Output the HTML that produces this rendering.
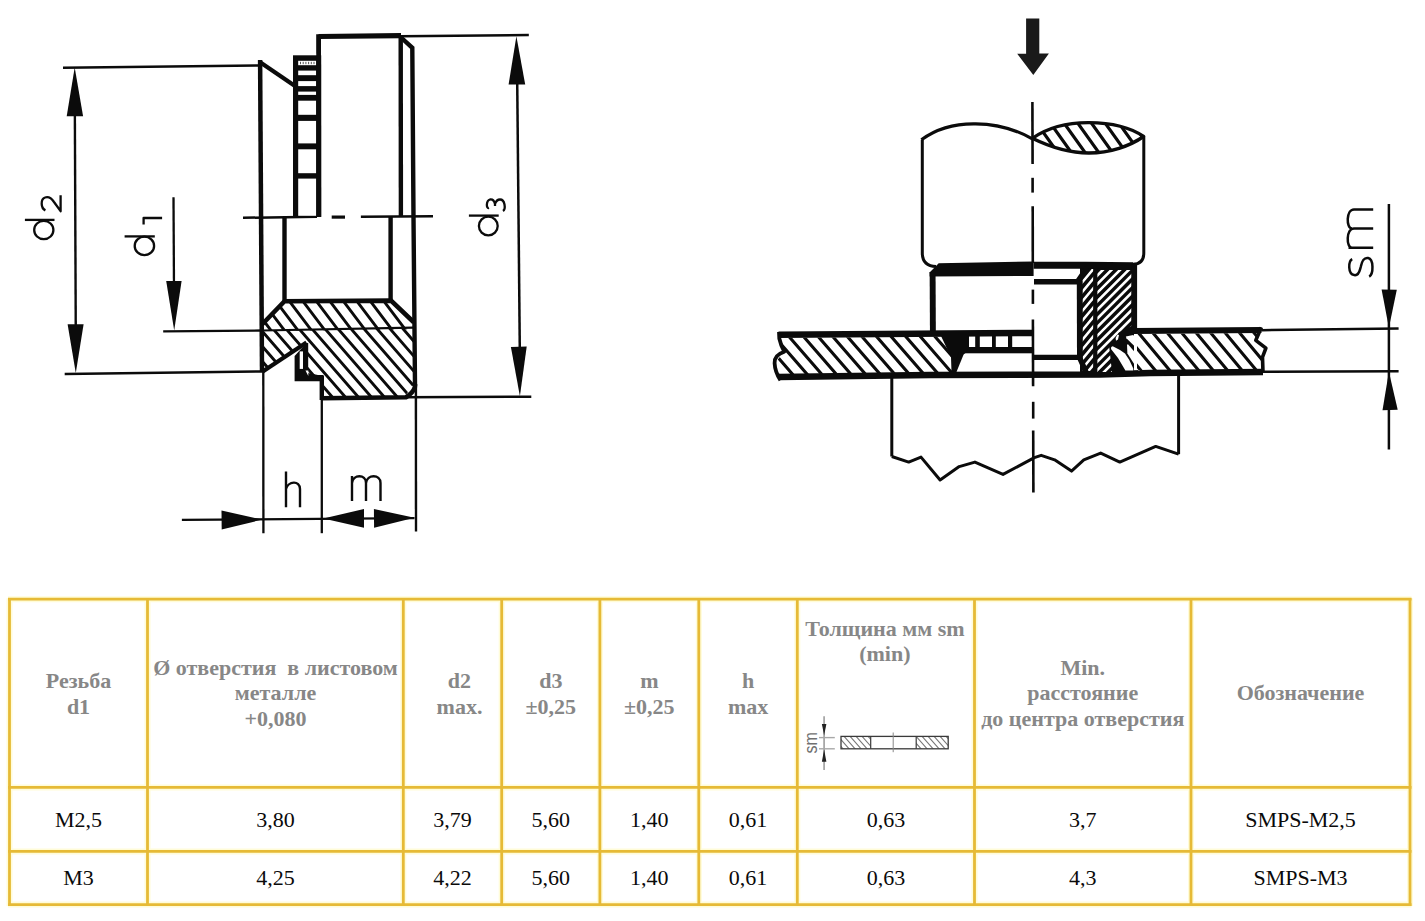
<!DOCTYPE html>
<html><head><meta charset="utf-8">
<style>
html,body{margin:0;padding:0;background:#fff;width:1425px;height:921px;overflow:hidden;}
body{position:relative;font-family:"Liberation Serif",serif;}
.t{position:absolute;text-align:center;white-space:nowrap;font-size:22px;line-height:25px;}
.h{color:#878787;font-weight:bold;line-height:26px;}
.h3{line-height:25.5px;}
.b{color:#0a0a0a;}
svg{position:absolute;left:0;top:0;}
</style></head><body>
<svg width="1425" height="921" viewBox="0 0 1425 921">
<g stroke="#FFFCD8" stroke-width="6" fill="none">
<line x1="8" y1="599.2" x2="1411.5" y2="599.2"/>
<line x1="8" y1="787.4" x2="1411.5" y2="787.4"/>
<line x1="8" y1="851.4" x2="1411.5" y2="851.4"/>
<line x1="8" y1="904.6" x2="1411.5" y2="904.6"/>
<line x1="9.5" y1="598.2" x2="9.5" y2="906"/>
<line x1="147.5" y1="598.2" x2="147.5" y2="906"/>
<line x1="403.3" y1="598.2" x2="403.3" y2="906"/>
<line x1="501.7" y1="598.2" x2="501.7" y2="906"/>
<line x1="599.9" y1="598.2" x2="599.9" y2="906"/>
<line x1="698.8" y1="598.2" x2="698.8" y2="906"/>
<line x1="797.3" y1="598.2" x2="797.3" y2="906"/>
<line x1="974.5" y1="598.2" x2="974.5" y2="906"/>
<line x1="1191" y1="598.2" x2="1191" y2="906"/>
<line x1="1410" y1="598.2" x2="1410" y2="906"/>
</g>
<g stroke="#E6BA36" stroke-width="2.8" fill="none">
<line x1="8" y1="599.2" x2="1411.5" y2="599.2"/>
<line x1="8" y1="787.4" x2="1411.5" y2="787.4"/>
<line x1="8" y1="851.4" x2="1411.5" y2="851.4"/>
<line x1="8" y1="904.6" x2="1411.5" y2="904.6"/>
<line x1="9.5" y1="598.2" x2="9.5" y2="906"/>
<line x1="147.5" y1="598.2" x2="147.5" y2="906"/>
<line x1="403.3" y1="598.2" x2="403.3" y2="906"/>
<line x1="501.7" y1="598.2" x2="501.7" y2="906"/>
<line x1="599.9" y1="598.2" x2="599.9" y2="906"/>
<line x1="698.8" y1="598.2" x2="698.8" y2="906"/>
<line x1="797.3" y1="598.2" x2="797.3" y2="906"/>
<line x1="974.5" y1="598.2" x2="974.5" y2="906"/>
<line x1="1191" y1="598.2" x2="1191" y2="906"/>
<line x1="1410" y1="598.2" x2="1410" y2="906"/>
</g>
<clipPath id="c1"><polygon points="262.0,324.0 284.5,301.0 391.0,300.5 413.0,321.6 413.0,329.3 262.0,331.0"/></clipPath>
<path clip-path="url(#c1)" d="M231.1,295.5 L261.7,336.0 M244.6,295.5 L275.2,336.0 M258.1,295.5 L288.7,336.0 M271.6,295.5 L302.2,336.0 M285.1,295.5 L315.7,336.0 M298.6,295.5 L329.2,336.0 M312.1,295.5 L342.7,336.0 M325.6,295.5 L356.2,336.0 M339.1,295.5 L369.7,336.0 M352.6,295.5 L383.2,336.0 M366.1,295.5 L396.7,336.0 M379.6,295.5 L410.2,336.0 M393.1,295.5 L423.7,336.0 M406.6,295.5 L437.2,336.0" stroke="#0b0b0b" stroke-width="2.9" fill="none"/>
<clipPath id="c2"><polygon points="262.0,330.5 413.0,328.0 414.0,384.0 405.0,396.0 321.5,398.0 321.5,377.0 306.0,375.0 306.0,343.0 262.0,371.7"/></clipPath>
<path clip-path="url(#c2)" d="M190.0,323.0 L259.5,403.0 M203.0,323.0 L272.5,403.0 M216.0,323.0 L285.5,403.0 M229.0,323.0 L298.5,403.0 M242.0,323.0 L311.5,403.0 M255.0,323.0 L324.5,403.0 M268.0,323.0 L337.5,403.0 M281.0,323.0 L350.5,403.0 M294.0,323.0 L363.5,403.0 M307.0,323.0 L376.5,403.0 M320.0,323.0 L389.5,403.0 M333.0,323.0 L402.5,403.0 M346.0,323.0 L415.5,403.0 M359.0,323.0 L428.5,403.0 M372.0,323.0 L441.5,403.0 M385.0,323.0 L454.5,403.0 M398.0,323.0 L467.5,403.0 M411.0,323.0 L480.5,403.0" stroke="#0b0b0b" stroke-width="2.9" fill="none"/>
<line x1="63.0" y1="67.8" x2="258.0" y2="65.5" stroke="#0b0b0b" stroke-width="2.5" stroke-linecap="butt"/>
<line x1="64.7" y1="374.0" x2="262.0" y2="371.5" stroke="#0b0b0b" stroke-width="2.5" stroke-linecap="butt"/>
<line x1="163.2" y1="331.3" x2="262.0" y2="330.5" stroke="#0b0b0b" stroke-width="2.3" stroke-linecap="butt"/>
<line x1="262.0" y1="330.5" x2="413.0" y2="327.6" stroke="#0b0b0b" stroke-width="2.2" stroke-linecap="butt"/>
<line x1="401.0" y1="36.2" x2="528.8" y2="35.0" stroke="#0b0b0b" stroke-width="2.5" stroke-linecap="butt"/>
<line x1="405.0" y1="397.3" x2="531.3" y2="396.7" stroke="#0b0b0b" stroke-width="2.5" stroke-linecap="butt"/>
<line x1="74.8" y1="100.0" x2="75.8" y2="340.0" stroke="#0b0b0b" stroke-width="2.4" stroke-linecap="butt"/>
<polygon points="74.7,67.5 66.7,116.2 83.1,116.2" fill="#0b0b0b"/>
<polygon points="75.8,373.0 83.6,324.2 67.6,324.2" fill="#0b0b0b"/>
<line x1="173.5" y1="197.3" x2="174.0" y2="290.0" stroke="#0b0b0b" stroke-width="2.3" stroke-linecap="butt"/>
<polygon points="174.2,330.5 181.6,281.1 166.2,281.1" fill="#0b0b0b"/>
<line x1="517.1" y1="70.0" x2="519.9" y2="360.0" stroke="#0b0b0b" stroke-width="2.5" stroke-linecap="butt"/>
<polygon points="516.4,36.3 508.6,84.6 525.2,84.4" fill="#0b0b0b"/>
<polygon points="519.9,396.2 526.7,346.6 510.9,347.0" fill="#0b0b0b"/>
<line x1="243.0" y1="217.8" x2="317.0" y2="216.8" stroke="#0b0b0b" stroke-width="2.5" stroke-linecap="butt"/>
<line x1="331.7" y1="217.1" x2="345.0" y2="217.1" stroke="#0b0b0b" stroke-width="3.2" stroke-linecap="butt"/>
<line x1="360.9" y1="216.8" x2="433.0" y2="216.3" stroke="#0b0b0b" stroke-width="2.5" stroke-linecap="butt"/>
<line x1="263.3" y1="372.0" x2="263.4" y2="533.2" stroke="#0b0b0b" stroke-width="2.3" stroke-linecap="butt"/>
<line x1="321.8" y1="398.0" x2="321.8" y2="533.2" stroke="#0b0b0b" stroke-width="2.3" stroke-linecap="butt"/>
<line x1="415.9" y1="388.0" x2="416.0" y2="531.4" stroke="#0b0b0b" stroke-width="2.4" stroke-linecap="butt"/>
<line x1="181.9" y1="519.9" x2="414.5" y2="518.2" stroke="#0b0b0b" stroke-width="2.3" stroke-linecap="butt"/>
<polygon points="262.2,519.6 221.5,510.4 221.7,529.6" fill="#0b0b0b"/>
<polygon points="323.3,518.6 364.0,527.8 364.0,509.0" fill="#0b0b0b"/>
<polygon points="414.5,517.7 373.9,508.9 374.1,527.7" fill="#0b0b0b"/>
<line x1="260.1" y1="60.0" x2="262.0" y2="372.0" stroke="#0b0b0b" stroke-width="4.5" stroke-linecap="butt"/>
<path d="M260.5,62.5 L295.0,86.0" fill="none" stroke="#0b0b0b" stroke-width="4.2" stroke-linejoin="miter" stroke-linecap="butt"/>
<rect x="293.0" y="55.3" width="28.2" height="161.5" fill="#0b0b0b"/>
<rect x="298.2" y="60.8" width="18.0" height="4.4" fill="#fff"/>
<rect x="298.2" y="70.6" width="18.0" height="4.6" fill="#fff"/>
<rect x="298.2" y="81.1" width="18.0" height="5.0" fill="#fff"/>
<rect x="298.2" y="91.6" width="18.0" height="3.3" fill="#fff"/>
<rect x="298.2" y="100.7" width="18.0" height="14.1" fill="#fff"/>
<rect x="298.2" y="120.9" width="18.0" height="22.5" fill="#fff"/>
<rect x="298.2" y="149.3" width="18.0" height="23.9" fill="#fff"/>
<rect x="298.2" y="178.6" width="18.0" height="37.2" fill="#fff"/>
<rect x="300.0" y="61.8" width="1.0" height="2.4" fill="#555"/>
<rect x="302.7" y="61.8" width="1.0" height="2.4" fill="#555"/>
<rect x="305.4" y="61.8" width="1.0" height="2.4" fill="#555"/>
<rect x="308.1" y="61.8" width="1.0" height="2.4" fill="#555"/>
<rect x="310.8" y="61.8" width="1.0" height="2.4" fill="#555"/>
<rect x="313.5" y="61.8" width="1.0" height="2.4" fill="#555"/>
<line x1="318.6" y1="34.2" x2="318.8" y2="217.0" stroke="#0b0b0b" stroke-width="4.8" stroke-linecap="butt"/>
<path d="M318.5,36.5 L401.0,35.6" fill="none" stroke="#0b0b0b" stroke-width="5.2" stroke-linejoin="miter" stroke-linecap="butt"/>
<line x1="400.7" y1="35.0" x2="400.9" y2="217.0" stroke="#0b0b0b" stroke-width="4.4" stroke-linecap="butt"/>
<path d="M400.5,37.0 L412.3,47.8 L413.5,217.0 L414.5,330.0 L415.0,386.0" fill="none" stroke="#0b0b0b" stroke-width="4.4" stroke-linejoin="miter" stroke-linecap="butt"/>
<line x1="284.5" y1="217.0" x2="284.5" y2="302.0" stroke="#0b0b0b" stroke-width="4.4" stroke-linecap="butt"/>
<line x1="390.6" y1="217.0" x2="390.6" y2="302.0" stroke="#0b0b0b" stroke-width="4.4" stroke-linecap="butt"/>
<path d="M262.0,324.5 L284.5,301.2 L391.0,300.6 L413.5,322.0" fill="none" stroke="#0b0b0b" stroke-width="4.6" stroke-linejoin="miter" stroke-linecap="butt"/>
<path d="M415,384 L415,387 Q413,393 406,397.2 L321.5,398.2" fill="none" stroke="#0b0b0b" stroke-width="4.6" stroke-linejoin="round" />
<path d="M262.0,372.0 L306.5,342.6" fill="none" stroke="#0b0b0b" stroke-width="4.2" stroke-linejoin="miter" stroke-linecap="butt"/>
<polygon points="294.6,356.0 306.0,343.5 308.2,342.8 308.2,373.0 318.0,375.0 323.6,375.0 323.6,381.2 294.6,381.2" fill="#0b0b0b"/>
<rect x="299.7" y="351.4" width="3.3" height="17.5" fill="#fff"/>
<line x1="321.8" y1="376.0" x2="321.8" y2="400.0" stroke="#0b0b0b" stroke-width="4.4" stroke-linecap="butt"/>
<polygon points="305.5,370.5 308.3,370.5 308.3,376.0" fill="#fff"/>
<polygon points="1026.1,18.4 1039.3,18.4 1039.3,53.5 1048.9,53.5 1033.3,75.0 1017.2,53.8 1026.1,53.8" fill="#1a1a1a"/>
<line x1="1032.4" y1="101.9" x2="1032.6" y2="164.1" stroke="#0b0b0b" stroke-width="2.6" stroke-linecap="butt"/>
<line x1="1032.6" y1="177.8" x2="1032.6" y2="192.6" stroke="#0b0b0b" stroke-width="2.6" stroke-linecap="butt"/>
<line x1="1032.7" y1="206.3" x2="1032.8" y2="263.0" stroke="#0b0b0b" stroke-width="2.6" stroke-linecap="butt"/>
<line x1="1032.9" y1="289.6" x2="1032.9" y2="303.9" stroke="#0b0b0b" stroke-width="2.6" stroke-linecap="butt"/>
<line x1="1032.9" y1="319.4" x2="1033.1" y2="386.3" stroke="#0b0b0b" stroke-width="2.6" stroke-linecap="butt"/>
<line x1="1033.2" y1="401.8" x2="1033.2" y2="418.6" stroke="#0b0b0b" stroke-width="2.6" stroke-linecap="butt"/>
<line x1="1033.2" y1="430.5" x2="1033.4" y2="492.6" stroke="#0b0b0b" stroke-width="2.6" stroke-linecap="butt"/>
<path d="M922.3,139.7 L922.3,253 Q922.3,266 936,266.5" fill="none" stroke="#0b0b0b" stroke-width="3.0" stroke-linejoin="round" />
<path d="M1143.8,136.5 L1143.8,253 Q1143.8,264 1133,264.3" fill="none" stroke="#0b0b0b" stroke-width="3.0" stroke-linejoin="round" />
<path d="M921.4,139.7 C940,126 960,123.5 975.7,123.8 C995,124 1015,129 1032.3,138.8" fill="none" stroke="#0b0b0b" stroke-width="3.2" stroke-linejoin="round" />
<clipPath id="c3"><path d="M1032.3,138.3 C1050,126 1070,122.5 1088.9,122.6 C1110,122.7 1130,127 1143.6,136.5 C1130,146 1110,153 1088.9,153 C1070,153 1050,147 1032.3,138.3 Z"/></clipPath>
<path clip-path="url(#c3)" d="M991.9,118.0 L1020.5,158.0 M1005.6,118.0 L1034.2,158.0 M1019.3,118.0 L1047.9,158.0 M1033.0,118.0 L1061.6,158.0 M1046.7,118.0 L1075.3,158.0 M1060.4,118.0 L1089.0,158.0 M1074.1,118.0 L1102.7,158.0 M1087.8,118.0 L1116.4,158.0 M1101.5,118.0 L1130.1,158.0 M1115.2,118.0 L1143.8,158.0 M1128.9,118.0 L1157.5,158.0 M1142.6,118.0 L1171.2,158.0 M1156.3,118.0 L1184.9,158.0 M1170.0,118.0 L1198.6,158.0 M1183.7,118.0 L1212.3,158.0" stroke="#0b0b0b" stroke-width="3.2" fill="none"/>
<path d="M1032.3,138.3 C1050,126 1070,122.5 1088.9,122.6 C1110,122.7 1130,127 1143.6,136.5 C1130,146 1110,153 1088.9,153 C1070,153 1050,147 1032.3,138.3 Z" fill="none" stroke="#0b0b0b" stroke-width="3.4" stroke-linejoin="round" />
<polygon points="938.7,263.2 1033.6,261.5 1033.6,276.0 929.6,276.5 929.6,272.4" fill="#0b0b0b"/>
<line x1="932.6" y1="272.0" x2="932.9" y2="334.0" stroke="#0b0b0b" stroke-width="5.9" stroke-linecap="butt"/>
<clipPath id="c4"><polygon points="779.0,338.0 941.0,336.5 952.0,357.0 953.5,372.0 780.0,374.5 778.0,370.0 774.6,363.2 784.3,351.7"/></clipPath>
<path clip-path="url(#c4)" d="M740.8,331.5 L782.5,379.5 M755.4,331.5 L797.1,379.5 M770.0,331.5 L811.7,379.5 M784.6,331.5 L826.3,379.5 M799.2,331.5 L840.9,379.5 M813.8,331.5 L855.5,379.5 M828.4,331.5 L870.1,379.5 M843.0,331.5 L884.7,379.5 M857.6,331.5 L899.3,379.5 M872.2,331.5 L913.9,379.5 M886.8,331.5 L928.5,379.5 M901.4,331.5 L943.1,379.5 M916.0,331.5 L957.7,379.5 M930.6,331.5 L972.3,379.5 M945.2,331.5 L986.9,379.5" stroke="#0b0b0b" stroke-width="3.1" fill="none"/>
<path d="M778.5,334.8 L1033.0,333.0" fill="none" stroke="#0b0b0b" stroke-width="6.5" stroke-linejoin="miter" stroke-linecap="butt"/>
<rect x="949.0" y="347.0" width="84.0" height="6.3" fill="#0b0b0b"/>
<polygon points="941.0,336.0 969.0,336.0 969.0,347.0 965.0,353.5 960.5,356.0 956.0,372.0 951.5,372.0 951.0,357.0" fill="#0b0b0b"/>
<rect x="975.2" y="336.0" width="4.6" height="11.5" fill="#0b0b0b"/>
<rect x="992.0" y="336.0" width="3.8" height="11.5" fill="#0b0b0b"/>
<rect x="1008.0" y="336.0" width="4.2" height="11.5" fill="#0b0b0b"/>
<line x1="961.5" y1="353.0" x2="953.3" y2="373.0" stroke="#0b0b0b" stroke-width="5.0" stroke-linecap="butt"/>
<path d="M779.0,377.0 L930.0,375.0 L1100.0,374.5 L1150.0,372.9 L1263.0,372.0" fill="none" stroke="#0b0b0b" stroke-width="6.5" stroke-linejoin="miter" stroke-linecap="butt"/>
<path d="M779,332 L779.3,338.5 Q781,346 784.3,351.7 Q774,355 774.6,363.2 Q775,372 780.4,380.2" fill="none" stroke="#0b0b0b" stroke-width="3.8" stroke-linejoin="round" />
<polygon points="1080.0,266.0 1134.0,266.0 1134.0,372.0 1080.0,372.0" fill="#0b0b0b"/>
<clipPath id="c5"><polygon points="1082.5,269.0 1093.3,269.0 1093.3,371.0 1082.5,371.0"/></clipPath>
<path clip-path="url(#c5)" d="M1081.5,264.0 L988.2,376.0 M1089.5,264.0 L996.2,376.0 M1097.5,264.0 L1004.2,376.0 M1105.5,264.0 L1012.2,376.0 M1113.5,264.0 L1020.2,376.0 M1121.5,264.0 L1028.2,376.0 M1129.5,264.0 L1036.2,376.0 M1137.5,264.0 L1044.2,376.0 M1145.5,264.0 L1052.2,376.0 M1153.5,264.0 L1060.2,376.0 M1161.5,264.0 L1068.2,376.0 M1169.5,264.0 L1076.2,376.0 M1177.5,264.0 L1084.2,376.0 M1185.5,264.0 L1092.2,376.0" stroke="#fff" stroke-width="2.5" fill="none"/>
<clipPath id="c6"><polygon points="1097.3,270.0 1131.5,270.0 1131.5,326.0 1119.0,332.5 1109.0,345.0 1112.0,372.0 1097.3,372.0"/></clipPath>
<path clip-path="url(#c6)" d="M1099.2,265.0 L987.2,377.0 M1107.8,265.0 L995.8,377.0 M1116.4,265.0 L1004.4,377.0 M1125.0,265.0 L1013.0,377.0 M1133.6,265.0 L1021.6,377.0 M1142.2,265.0 L1030.2,377.0 M1150.8,265.0 L1038.8,377.0 M1159.4,265.0 L1047.4,377.0 M1168.0,265.0 L1056.0,377.0 M1176.6,265.0 L1064.6,377.0 M1185.2,265.0 L1073.2,377.0 M1193.8,265.0 L1081.8,377.0 M1202.4,265.0 L1090.4,377.0 M1211.0,265.0 L1099.0,377.0 M1219.6,265.0 L1107.6,377.0 M1228.2,265.0 L1116.2,377.0 M1236.8,265.0 L1124.8,377.0 M1245.4,265.0 L1133.4,377.0" stroke="#fff" stroke-width="2.6" fill="none"/>
<polygon points="1111.2,347.1 1112.7,346.3 1120.0,350.0 1125.0,353.5 1129.3,360.0 1133.3,368.6 1133.3,370.5 1125.4,370.5 1118.0,358.0 1111.0,349.0" fill="#fff"/>
<polygon points="1125.9,336.4 1133.2,335.1 1140.0,342.2 1140.0,351.5 1126.4,338.3" fill="#fff"/>
<polygon points="1127.0,344.7 1128.0,344.2 1140.0,358.3 1140.0,370.5 1138.3,370.5 1127.4,353.5" fill="#fff"/>
<polygon points="1115.6,338.0 1117.5,334.6 1119.0,335.0 1118.0,339.5 1116.0,340.7" fill="#fff"/>
<path d="M1033.6,265.2 L1086.0,265.2 L1133.0,265.8" fill="none" stroke="#0b0b0b" stroke-width="7.0" stroke-linejoin="miter" stroke-linecap="butt"/>
<path d="M1034.0,281.8 L1077.5,281.8 L1087.0,268.0" fill="none" stroke="#0b0b0b" stroke-width="5.5" stroke-linejoin="miter" stroke-linecap="butt"/>
<line x1="1079.6" y1="281.0" x2="1079.8" y2="359.0" stroke="#0b0b0b" stroke-width="5.6" stroke-linecap="butt"/>
<line x1="1095.3" y1="268.0" x2="1095.3" y2="371.0" stroke="#0b0b0b" stroke-width="3.6" stroke-linecap="butt"/>
<line x1="1134.3" y1="264.5" x2="1134.3" y2="331.0" stroke="#0b0b0b" stroke-width="5.6" stroke-linecap="butt"/>
<path d="M1034.0,357.4 L1079.5,357.4 L1086.0,372.0" fill="none" stroke="#0b0b0b" stroke-width="5.4" stroke-linejoin="miter" stroke-linecap="butt"/>
<clipPath id="c7"><polygon points="1137.0,334.0 1258.0,333.0 1255.8,340.3 1265.9,348.2 1262.5,357.2 1263.0,369.5 1137.0,370.5"/></clipPath>
<path clip-path="url(#c7)" d="M1105.5,328.0 L1145.1,375.5 M1120.0,328.0 L1159.6,375.5 M1134.5,328.0 L1174.0,375.5 M1148.9,328.0 L1188.5,375.5 M1163.3,328.0 L1202.9,375.5 M1177.8,328.0 L1217.4,375.5 M1192.2,328.0 L1231.8,375.5 M1206.7,328.0 L1246.3,375.5 M1221.2,328.0 L1260.7,375.5 M1235.6,328.0 L1275.2,375.5 M1250.0,328.0 L1289.6,375.5 M1264.5,328.0 L1304.1,375.5" stroke="#0b0b0b" stroke-width="3.1" fill="none"/>
<path d="M1134.0,331.0 L1261.4,330.0" fill="none" stroke="#0b0b0b" stroke-width="6.2" stroke-linejoin="miter" stroke-linecap="butt"/>
<path d="M1261.4,327.4 L1255.8,340.3 L1265.9,348.2 L1262.5,357.2 L1263,372.9" fill="none" stroke="#0b0b0b" stroke-width="3.6" stroke-linejoin="round" />
<line x1="1262.0" y1="330.2" x2="1398.6" y2="328.4" stroke="#0b0b0b" stroke-width="2.5" stroke-linecap="butt"/>
<line x1="1263.0" y1="371.8" x2="1398.6" y2="371.2" stroke="#0b0b0b" stroke-width="2.5" stroke-linecap="butt"/>
<line x1="1388.9" y1="204.0" x2="1388.9" y2="449.5" stroke="#0b0b0b" stroke-width="2.5" stroke-linecap="butt"/>
<polygon points="1388.9,327.8 1396.8,289.8 1381.6,289.6" fill="#0b0b0b"/>
<polygon points="1388.9,371.8 1382.5,410.2 1397.7,409.8" fill="#0b0b0b"/>
<line x1="891.8" y1="376.7" x2="891.8" y2="456.5" stroke="#0b0b0b" stroke-width="3.0" stroke-linecap="butt"/>
<line x1="1178.6" y1="376.0" x2="1178.6" y2="454.2" stroke="#0b0b0b" stroke-width="3.0" stroke-linecap="butt"/>
<path d="M891.8,456.5 L908.7,462.1 L921.0,457.1 L940.1,480.0 L959.2,466.6 L974.9,462.1 L1003.0,474.4 L1034.4,457.6 L1041.2,455.3 L1054.6,459.8 L1071.5,471.1 L1083.8,459.8 L1100.7,453.1 L1119.8,462.1 L1155.7,446.4 L1178.6,454.2" fill="none" stroke="#0b0b0b" stroke-width="3.0" stroke-linejoin="round" stroke-linecap="butt"/>
<line x1="24.9" y1="219.9" x2="54.5" y2="219.9" stroke="#0b0b0b" stroke-width="2.3" stroke-linecap="butt"/>
<ellipse cx="43.8" cy="230" rx="9.6" ry="9.2" fill="none" stroke="#0b0b0b" stroke-width="2.3"/>
<path d="M45.4,210.4 C40.5,208 40.5,199 45,197.5 C49,196 52,199 54,202 L60.6,211.2 L60.6,195.2" fill="none" stroke="#0b0b0b" stroke-width="2.3" stroke-linejoin="round" />
<line x1="124.6" y1="236.4" x2="154.8" y2="236.4" stroke="#0b0b0b" stroke-width="2.3" stroke-linecap="butt"/>
<ellipse cx="144.4" cy="245.9" rx="9.7" ry="9.2" fill="none" stroke="#0b0b0b" stroke-width="2.3"/>
<path d="M143.6,224.5 L143.6,218 L162.1,218" fill="none" stroke="#0b0b0b" stroke-width="2.3" stroke-linejoin="round" />
<line x1="468.9" y1="215.6" x2="498.7" y2="215.6" stroke="#0b0b0b" stroke-width="2.3" stroke-linecap="butt"/>
<ellipse cx="488.3" cy="226" rx="9.4" ry="9.4" fill="none" stroke="#0b0b0b" stroke-width="2.3"/>
<path d="M489,208 C486,209 486,200.5 490,199.5 C493,199 494.5,202 495,204 C496,201 497.5,199.5 500,199.5 C505,199.5 506,209 503,211 M495,204 L495,206" fill="none" stroke="#0b0b0b" stroke-width="2.3" stroke-linejoin="round" />
<path d="M286,471.5 L286,507.3 M286,489 C288,481 300,480 300,489 L300,507.3" fill="none" stroke="#0b0b0b" stroke-width="2.4" stroke-linejoin="round" />
<path d="M352,476 L352,501 M352,483 C353,474 366,474 366,483 L366,501 M366,483 C367,474 380.5,474 380.5,483 L380.5,501" fill="none" stroke="#0b0b0b" stroke-width="2.4" stroke-linejoin="round" />
<path d="M1373.2,247.8 L1348.5,247.8 M1373.2,228.4 L1354,228.4 C1346,228.4 1346,247.8 1352,247.8 M1373.2,209.4 L1354,209.4 C1346,209.4 1346,228.4 1352,228.4" fill="none" stroke="#0b0b0b" stroke-width="2.5" stroke-linejoin="round" />
<path d="M1352.2,259.1 C1348.2,261.1 1347.7,274.1 1354.2,275.1 C1359.2,276.1 1359.7,270.1 1360.7,267.1 C1361.7,262.1 1363.2,257.1 1368.2,258.1 C1373.7,259.1 1373.7,274.1 1369.2,276.6" fill="none" stroke="#0b0b0b" stroke-width="2.5" stroke-linejoin="round" />
<line x1="824.1" y1="716.2" x2="824.1" y2="770.1" stroke="#a8a8a8" stroke-width="1.8"/>
<polygon points="821.9,724.1 826.4,724.1 824.1,735.5" fill="#222"/>
<polygon points="821.9,761.7 826.4,761.7 824.1,749.2" fill="#222"/>
<line x1="819" y1="737.6" x2="834.8" y2="737.6" stroke="#a8a8a8" stroke-width="1.4"/>
<line x1="819" y1="748.8" x2="834.8" y2="748.8" stroke="#a8a8a8" stroke-width="1.4"/>
<clipPath id="sc1"><rect x="841" y="736.4" width="29.7" height="12.4"/></clipPath>
<clipPath id="sc2"><rect x="916.2" y="736.4" width="32" height="12.4"/></clipPath>
<path clip-path="url(#sc1)" d="M824.0,734 L839.0,751 M830.0,734 L845.0,751 M836.0,734 L851.0,751 M842.0,734 L857.0,751 M848.0,734 L863.0,751 M854.0,734 L869.0,751 M860.0,734 L875.0,751 M866.0,734 L881.0,751 M872.0,734 L887.0,751 M878.0,734 L893.0,751 M884.0,734 L899.0,751 M890.0,734 L905.0,751 M896.0,734 L911.0,751 M902.0,734 L917.0,751 M908.0,734 L923.0,751 M914.0,734 L929.0,751 M920.0,734 L935.0,751 M926.0,734 L941.0,751 M932.0,734 L947.0,751 M938.0,734 L953.0,751 M944.0,734 L959.0,751 M950.0,734 L965.0,751" stroke="#777" stroke-width="1.1" fill="none"/>
<path clip-path="url(#sc2)" d="M824.0,734 L839.0,751 M830.0,734 L845.0,751 M836.0,734 L851.0,751 M842.0,734 L857.0,751 M848.0,734 L863.0,751 M854.0,734 L869.0,751 M860.0,734 L875.0,751 M866.0,734 L881.0,751 M872.0,734 L887.0,751 M878.0,734 L893.0,751 M884.0,734 L899.0,751 M890.0,734 L905.0,751 M896.0,734 L911.0,751 M902.0,734 L917.0,751 M908.0,734 L923.0,751 M914.0,734 L929.0,751 M920.0,734 L935.0,751 M926.0,734 L941.0,751 M932.0,734 L947.0,751 M938.0,734 L953.0,751 M944.0,734 L959.0,751 M950.0,734 L965.0,751" stroke="#777" stroke-width="1.1" fill="none"/>
<rect x="841" y="736.4" width="107.2" height="12.4" fill="none" stroke="#3a3a3a" stroke-width="1.3"/>
<line x1="870.7" y1="736.4" x2="870.7" y2="748.8" stroke="#3a3a3a" stroke-width="1.2"/>
<line x1="916.2" y1="736.4" x2="916.2" y2="748.8" stroke="#3a3a3a" stroke-width="1.2"/>
<line x1="893.2" y1="732.5" x2="893.2" y2="752.2" stroke="#888" stroke-width="1"/>
<text x="0" y="0" transform="translate(817.4,753.6) rotate(-90) scale(1,1.2)" style="font-family:&quot;Liberation Sans&quot;,sans-serif;font-size:16px" fill="#707070">sm</text>
</svg>
<!-- header -->
<div class="t h" style="left:9.5px;width:138px;top:668.4px">Резьба<br>d1</div>
<div class="t h h3" style="left:147.5px;width:256px;top:654.5px">Ø отверстия&nbsp; в листовом<br>металле<br>+0,080</div>
<div class="t h" style="left:410.3px;width:98.4px;top:668.4px">d2<br>max.</div>
<div class="t h" style="left:501.7px;width:98.2px;top:668.4px">d3<br>±0,25</div>
<div class="t h" style="left:599.9px;width:98.9px;top:668.4px">m<br>±0,25</div>
<div class="t h" style="left:698.8px;width:98.5px;top:668.4px">h<br>max</div>
<div class="t h" style="left:796.3px;width:177.2px;top:615.8px;line-height:25px">Толщина мм sm<br>(min)</div>
<div class="t h h3" style="left:974.5px;width:216.5px;top:654.5px">Min.<br>расстояние<br>до центра отверстия</div>
<div class="t h" style="left:1191px;width:219px;top:680px">Обозначение</div>
<!-- rows -->
<div class="t b" style="left:9.5px;width:138px;top:806.9px">M2,5</div>
<div class="t b" style="left:147.5px;width:256px;top:806.9px">3,80</div>
<div class="t b" style="left:403.3px;width:98.4px;top:806.9px">3,79</div>
<div class="t b" style="left:501.7px;width:98.2px;top:806.9px">5,60</div>
<div class="t b" style="left:599.9px;width:98.9px;top:806.9px">1,40</div>
<div class="t b" style="left:698.8px;width:98.5px;top:806.9px">0,61</div>
<div class="t b" style="left:797.3px;width:177.2px;top:806.9px">0,63</div>
<div class="t b" style="left:974.5px;width:216.5px;top:806.9px">3,7</div>
<div class="t b" style="left:1191px;width:219px;top:806.9px">SMPS-M2,5</div>
<div class="t b" style="left:9.5px;width:138px;top:864.5px">M3</div>
<div class="t b" style="left:147.5px;width:256px;top:864.5px">4,25</div>
<div class="t b" style="left:403.3px;width:98.4px;top:864.5px">4,22</div>
<div class="t b" style="left:501.7px;width:98.2px;top:864.5px">5,60</div>
<div class="t b" style="left:599.9px;width:98.9px;top:864.5px">1,40</div>
<div class="t b" style="left:698.8px;width:98.5px;top:864.5px">0,61</div>
<div class="t b" style="left:797.3px;width:177.2px;top:864.5px">0,63</div>
<div class="t b" style="left:974.5px;width:216.5px;top:864.5px">4,3</div>
<div class="t b" style="left:1191px;width:219px;top:864.5px">SMPS-M3</div>
</body></html>
